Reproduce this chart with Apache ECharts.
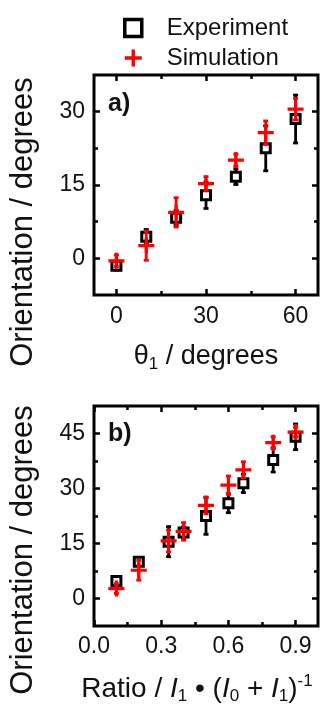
<!DOCTYPE html>
<html>
<head>
<meta charset="utf-8">
<script src="https://cdn.jsdelivr.net/npm/echarts@6/dist/echarts.min.js"></script>
<style>
html,body{margin:0;padding:0;background:#fff;}
#chart{width:323px;height:706px;}
</style>
</head>
<body>
<div id="chart"></div>
<script>
// ---------- data ----------
const thetaA = [0, 10, 20, 30, 40, 50, 60];
const expA = [-1.5, 4.4, 8.3, 12.9, 16.7, 22.5, 28.5];
const expAErr = [0.9, 1.5, 1.5, 2.7, 1.6, 4.6, 4.9];
const simA = [-0.5, 2.6, 9.4, 15.3, 20.1, 25.7, 30.5];
const simAErr = [1.2, 3.0, 3.0, 1.4, 1.2, 2.4, 2.2];

const ratioB = [0.1, 0.2, 0.333, 0.4, 0.5, 0.6, 0.667, 0.8, 0.9];
const expB = [4.8, 10.0, 15.5, 18.0, 22.5, 26.0, 31.4, 37.8, 44.1];
const expBErr = [1.0, 0.8, 4.1, 1.5, 5.0, 2.6, 2.5, 3.3, 3.5];
const simB = [2.7, 7.7, 15.7, 18.3, 25.4, 30.9, 35.1, 42.5, 45.4];
const simBErr = [1.3, 2.7, 3.0, 2.4, 2.3, 2.5, 2.2, 1.6, 1.3];

const yMajorA = [0, 15, 30];
const yMinorA = [7.5, 22.5];
const xMajorA = [0, 30, 60];
const xMinorA = [15, 45];
const yMajorB = [0, 15, 30, 45];
const yMinorB = [7.5, 22.5, 37.5];
const xMajorB = [0, 0.3, 0.6, 0.9];
const xMinorB = [0.15, 0.45, 0.75];

const seriesNames = ['Experiment', 'Simulation'];

// ---------- styling ----------
const FONT = '"Liberation Sans", Arial, sans-serif';
const TXT = '#111';
const RED = '#ff0000';
const PLUS = 'path://M-2,-10 L2,-10 L2,-2 L10,-2 L10,2 L2,2 L2,10 L-2,10 L-2,2 L-10,2 L-10,-2 L-2,-2 Z';

const grids = [
  {left: 94, top: 75, width: 224, height: 220, show: true, borderColor: '#000', borderWidth: 3, backgroundColor: 'transparent'},
  {left: 94, top: 406, width: 224, height: 220, show: true, borderColor: '#000', borderWidth: 3, backgroundColor: 'transparent'}
];

function ax(gridIndex, position, min, max, vals, len, label, extra) {
  const a = {
    type: 'value', gridIndex, position, min, max,
    axisLine: {show: false, onZero: false}, splitLine: {show: false},
    axisTick: {show: true, inside: true, length: len, customValues: vals, lineStyle: {color: '#000', width: 2.5}},
    axisLabel: label ? Object.assign({show: true, customValues: vals, fontSize: 23, color: TXT, fontFamily: FONT}, label) : {show: false}
  };
  return Object.assign(a, extra || {});
}

const xAxes = [
  // grid 0
  ax(0, 'bottom', -7.5, 67.5, xMajorA, 6, {margin: 10}, {
    name: '{t|θ}{s|1}{t| / degrees}', nameLocation: 'middle', nameGap: 46,
    nameTextStyle: {rich: {
      t: {fontSize: 27, fontFamily: FONT, color: TXT, lineHeight: 32},
      s: {fontSize: 17, fontFamily: FONT, color: TXT, verticalAlign: 'bottom', lineHeight: 16}
    }}
  }),
  ax(0, 'bottom', -7.5, 67.5, xMinorA, 4, null),
  ax(0, 'top', -7.5, 67.5, xMajorA, 6, null),
  ax(0, 'top', -7.5, 67.5, xMinorA, 4, null),
  // grid 1
  ax(1, 'bottom', 0, 1.0, xMajorB, 6, {margin: 9, formatter: v => v.toFixed(1)}, {
    name: '{t|Ratio / }{i|I}{s|1}{t| • (}{i|I}{s|0}{t| + }{i|I}{s|1}{t|)}{p|-1}',
    nameLocation: 'middle', nameGap: 47,
    nameTextStyle: {padding: [0, 18, 0, 0], rich: {
      t: {fontSize: 28, fontFamily: FONT, color: TXT, lineHeight: 32},
      i: {fontSize: 28, fontFamily: FONT, fontStyle: 'italic', color: TXT, lineHeight: 32},
      s: {fontSize: 17, fontFamily: FONT, color: TXT, verticalAlign: 'bottom', lineHeight: 16},
      p: {fontSize: 17, fontFamily: FONT, color: TXT, verticalAlign: 'top', lineHeight: 16}
    }}
  }),
  ax(1, 'bottom', 0, 1.0, xMinorB, 4, null),
  ax(1, 'top', 0, 1.0, xMajorB, 6, null),
  ax(1, 'top', 0, 1.0, xMinorB, 4, null)
];

const yAxes = [
  ax(0, 'left', -7.5, 37.5, yMajorA, 6, {margin: 9}),
  ax(0, 'left', -7.5, 37.5, yMinorA, 4, null),
  ax(0, 'right', -7.5, 37.5, yMajorA, 6, null),
  ax(0, 'right', -7.5, 37.5, yMinorA, 4, null),
  ax(1, 'left', -7.5, 52.5, yMajorB, 6, {margin: 9}),
  ax(1, 'left', -7.5, 52.5, yMinorB, 4, null),
  ax(1, 'right', -7.5, 52.5, yMajorB, 6, null),
  ax(1, 'right', -7.5, 52.5, yMinorB, 4, null)
];

function errData(xs, ys, es) {
  return xs.map((x, i) => [x, ys[i] - es[i], ys[i] + es[i]]);
}
function pts(xs, ys) {
  return xs.map((x, i) => [x, ys[i]]);
}
function errSeries(xIdx, yIdx, data, color) {
  return {
    type: 'custom', xAxisIndex: xIdx, yAxisIndex: yIdx, silent: true, z: 2,
    data: data,
    renderItem: function (params, api) {
      const x = api.value(0);
      const lo = api.coord([x, api.value(1)]);
      const hi = api.coord([x, api.value(2)]);
      const st = {stroke: color, lineWidth: 2.8};
      const cap = 2.5;
      return {type: 'group', children: [
        {type: 'line', shape: {x1: lo[0], y1: lo[1], x2: hi[0], y2: hi[1]}, style: st},
        {type: 'line', shape: {x1: lo[0] - cap, y1: lo[1], x2: lo[0] + cap, y2: lo[1]}, style: st},
        {type: 'line', shape: {x1: hi[0] - cap, y1: hi[1], x2: hi[0] + cap, y2: hi[1]}, style: st}
      ]};
    }
  };
}
function expSeries(xIdx, yIdx, data) {
  return {
    name: seriesNames[0], type: 'scatter', xAxisIndex: xIdx, yAxisIndex: yIdx, z: 3,
    symbol: 'rect', symbolSize: 9, data: data,
    itemStyle: {color: '#fff', borderColor: '#000', borderWidth: 3, opacity: 1}
  };
}
function simSeries(xIdx, yIdx, data) {
  return {
    name: seriesNames[1], type: 'scatter', xAxisIndex: xIdx, yAxisIndex: yIdx, z: 5,
    symbol: PLUS, symbolSize: 16, data: data,
    itemStyle: {color: RED, opacity: 1}
  };
}

const series = [
  errSeries(0, 0, errData(thetaA, expA, expAErr), '#000'),
  expSeries(0, 0, pts(thetaA, expA)),
  Object.assign(errSeries(0, 0, errData(thetaA, simA, simAErr), RED), {z: 4}),
  simSeries(0, 0, pts(thetaA, simA)),
  errSeries(4, 4, errData(ratioB, expB, expBErr), '#000'),
  expSeries(4, 4, pts(ratioB, expB)),
  Object.assign(errSeries(4, 4, errData(ratioB, simB, simBErr), RED), {z: 4}),
  simSeries(4, 4, pts(ratioB, simB))
];

const chart = echarts.init(document.getElementById('chart'), null, {renderer: 'canvas'});
chart.setOption({
  animation: false,
  backgroundColor: '#fff',
  grid: grids,
  xAxis: xAxes,
  yAxis: yAxes,
  legend: {
    orient: 'vertical', left: 118, top: 11, itemGap: 6,
    itemWidth: 17, itemHeight: 17, selectedMode: false,
    textStyle: {fontSize: 24, fontFamily: FONT, color: TXT, lineHeight: 24, padding: [0, 0, 0, 20]},
    data: [
      {name: seriesNames[0], icon: 'rect', itemStyle: {color: '#fff', borderColor: '#000', borderWidth: 3.5}},
      {name: seriesNames[1], icon: PLUS, itemStyle: {color: RED, borderWidth: 0}}
    ]
  },
  graphic: [
    {type: 'text', x: 23, y: 222, rotation: Math.PI / 2,
      style: {text: 'Orientation / degrees', fontSize: 31, fontFamily: FONT, fill: TXT, align: 'center', verticalAlign: 'middle'}},
    {type: 'text', x: 23, y: 550, rotation: Math.PI / 2,
      style: {text: 'Orientation / degrees', fontSize: 31, fontFamily: FONT, fill: TXT, align: 'center', verticalAlign: 'middle'}},
    {type: 'text', x: 108, y: 104,
      style: {text: 'a)', fontSize: 25, fontWeight: 'bold', fontFamily: FONT, fill: TXT, align: 'left', verticalAlign: 'middle'}},
    {type: 'text', x: 108, y: 434,
      style: {text: 'b)', fontSize: 25, fontWeight: 'bold', fontFamily: FONT, fill: TXT, align: 'left', verticalAlign: 'middle'}}
  ],
  series: series
});
</script>
</body>
</html>
